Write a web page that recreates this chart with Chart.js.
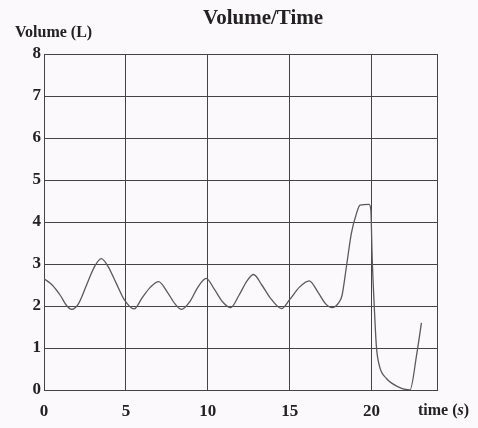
<!DOCTYPE html>
<html>
<head>
<meta charset="utf-8">
<script src="https://cdn.jsdelivr.net/npm/chart.js@4"></script>
<style>
    html, body { margin: 0; padding: 0; background: #fcf9fc; }
    #contenedor { width: 478px; height: 428px; }
</style>
</head>
<body>
<div id="contenedor"><canvas id="graficoVolumen"></canvas></div>
<script>
// Datos
const tiempos = [0, 0.5, 1.0, 1.4, 1.7, 2.1, 2.6, 3.1, 3.5, 3.9, 4.4, 4.9, 5.5, 6.0, 6.5, 7.0, 7.5, 8.0, 8.4, 8.9,
    9.4, 9.9, 10.4, 10.9, 11.4, 11.9, 12.4, 12.8, 13.3, 13.9, 14.5, 15.0, 15.6, 16.2, 16.7, 17.2, 17.6, 18.0,
    18.2, 18.47, 18.77, 19.08, 19.3, 19.85, 19.96, 20.04, 20.17, 20.3, 20.5, 20.9, 21.6, 22.35, 22.76, 23.05];
const volumenes = [2.65, 2.5, 2.25, 2.0, 1.92, 2.05, 2.5, 2.95, 3.13, 2.95, 2.55, 2.15, 1.93, 2.2, 2.45, 2.58, 2.35, 2.05, 1.92, 2.1,
    2.45, 2.66, 2.4, 2.1, 1.96, 2.25, 2.6, 2.75, 2.5, 2.15, 1.94, 2.15, 2.45, 2.6, 2.35, 2.05, 1.96, 2.08,
    2.25, 2.94, 3.73, 4.2, 4.4, 4.42, 4.29, 3.17, 1.98, 1.03, 0.55, 0.28, 0.08, 0.0, 0.85, 1.6];
const marcasTiempo = [0, 5, 10, 15, 20];
const tituloGrafico = 'Volume/Time';
const etiquetaY = 'Volume (L)';
const etiquetaX = ['time (', 's', ')'];

const fuente = '"Liberation Serif", "Times New Roman", serif';

// Plugin para títulos y borde derecho del área
const textosExtra = {
    id: 'textosExtra',
    afterDraw(chart) {
        const ctx = chart.ctx;
        const area = chart.chartArea;
        ctx.save();
        ctx.strokeStyle = '#444';
        ctx.lineWidth = 1;
        ctx.beginPath();
        ctx.moveTo(area.right + 0.5, area.top);
        ctx.lineTo(area.right + 0.5, area.bottom);
        ctx.stroke();

        ctx.fillStyle = '#222';
        ctx.textBaseline = 'middle';
        ctx.font = 'bold 21px ' + fuente;
        ctx.textAlign = 'center';
        ctx.fillText(tituloGrafico, 263, 19);
        ctx.font = 'bold 16px ' + fuente;
        ctx.textAlign = 'left';
        ctx.fillText(etiquetaY, 15, 33);

        // "time (s)" con la s en cursiva
        let x = 418;
        etiquetaX.forEach((parte, i) => {
            ctx.font = (i === 1 ? 'italic bold 16px ' : 'bold 16px ') + fuente;
            ctx.fillText(parte, x, 411);
            x += ctx.measureText(parte).width;
        });
        ctx.restore();
    }
};

const ctx = document.getElementById('graficoVolumen').getContext('2d');
new Chart(ctx, {
    type: 'line',
    data: {
        datasets: [{
            data: tiempos.map((t, i) => ({ x: t, y: volumenes[i] })),
            borderColor: '#5a5a5a',
            borderWidth: 1.3,
            pointRadius: 0,
            cubicInterpolationMode: 'monotone',
            fill: false
        }]
    },
    options: {
        responsive: true,
        maintainAspectRatio: false,
        animation: false,
        layout: { padding: { top: 54, right: 41, left: 0, bottom: 0 } },
        plugins: { legend: { display: false }, tooltip: { enabled: false } },
        scales: {
            x: {
                type: 'linear',
                min: 0,
                max: 24,
                afterBuildTicks: (escala) => { escala.ticks = marcasTiempo.map(v => ({ value: v })); },
                afterFit: (escala) => { escala.height = 38; },
                grid: { color: '#444', lineWidth: 1, drawTicks: false },
                border: { color: '#444' },
                ticks: {
                    color: '#222',
                    padding: 11,
                    font: { family: fuente, size: 17, weight: 'bold' }
                }
            },
            y: {
                min: 0,
                max: 8,
                afterFit: (escala) => { escala.width = 44; },
                grid: { color: '#444', lineWidth: 1, drawTicks: false },
                border: { color: '#444' },
                ticks: {
                    stepSize: 1,
                    color: '#222',
                    padding: 3,
                    font: { family: fuente, size: 17, weight: 'bold' }
                }
            }
        }
    },
    plugins: [textosExtra]
});
</script>
</body>
</html>
